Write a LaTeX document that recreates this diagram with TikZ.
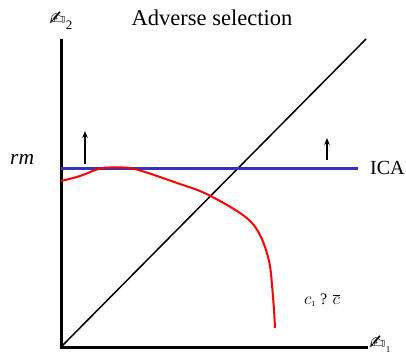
\documentclass[tikz,border=0pt]{standalone}
\usepackage{fontspec}
\setmainfont{Liberation Serif}
\newfontfamily\symfont{DejaVu Sans}
\usetikzlibrary{arrows.meta}
\begin{document}
\begin{tikzpicture}[x=1pt,y=-1pt,
  axis/.style={line width=3pt},
  lbl/.style={inner sep=0pt, font=\fontsize{20}{22}\selectfont},
  uparrow/.style={line width=1.6pt,-{Stealth[length=7pt,width=5.5pt]}}]
\useasboundingbox (0,0) rectangle (406,353);
\coordinate (O) at (61,347);
\coordinate (ytop) at (61,39);
\coordinate (xend) at (368,347);
\coordinate (dtop) at (366,39);
\coordinate (bl) at (61,168);
\coordinate (br) at (358,168);
\draw[axis] (ytop) -- (O) -- (xend);
\draw[line width=1.5pt] (O) -- (dtop);
\draw[line width=3pt, color={rgb,255:red,51;green,51;blue,187}] (bl) -- (br);
\draw[red, line width=2pt, line join=round]
  plot[smooth, tension=0.6] coordinates {(61,181) (80,176) (100,168.5) (115,167.5) (130,168) (145,172) (160,177) (180,184) (200,191) (220,201) (240,213) (252,223) (260,235) (266,250) (270,266) (272,285) (274,310) (275,328)};
\coordinate (a1s) at (85,164);
\coordinate (a1e) at (85,131);
\coordinate (a2s) at (327,160);
\coordinate (a2e) at (327,138);
\draw[uparrow] (a1s) -- (a1e);
\draw[uparrow] (a2s) -- (a2e);
\node[inner sep=0pt, anchor=base, font=\fontsize{22.5}{24}\selectfont] (title) at (212,26) {Adverse selection};
\node[lbl, anchor=base west] (ica) at (370,174) {ICA};
\node[inner sep=0pt, anchor=base west, font=\fontsize{21.5}{24}\selectfont] (rm) at (10,164) {\itshape rm};
\node[inner sep=0pt, anchor=base west, font=\fontsize{16}{18}\selectfont] (cc) at (304,304) {$c_{\scriptscriptstyle 1}$ ? $\overline{c}$};
\node[inner sep=0pt, anchor=base west] (y2) at (49,26) {{\symfont\fontsize{20}{22}\selectfont ✍}\raisebox{-4pt}{\fontsize{13}{16}\selectfont 2}};
\node[inner sep=0pt, anchor=base west] (x1) at (369,349) {{\symfont\fontsize{20}{22}\selectfont ✍}\raisebox{-3pt}{\fontsize{9}{12}\selectfont 1}};
\end{tikzpicture}
\end{document}
